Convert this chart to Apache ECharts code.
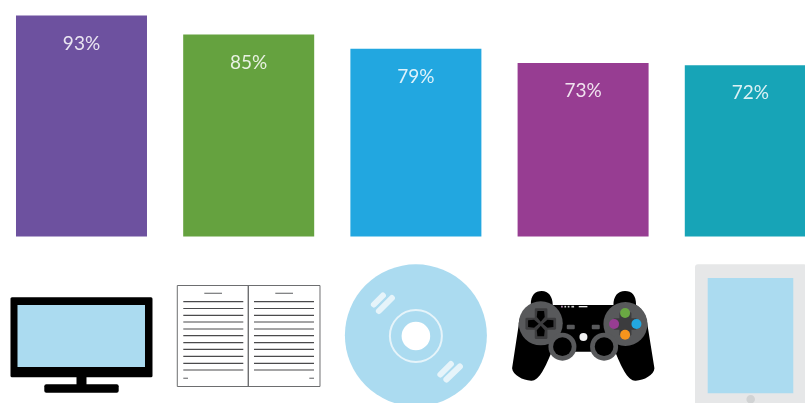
<!DOCTYPE html>
<html>
<head>
<meta charset="utf-8">
<style>
  html, body { margin: 0; padding: 0; background: #fff; }
  #chart { width: 805px; height: 403px; }
</style>
<script src="https://cdn.jsdelivr.net/npm/echarts@6/dist/echarts.min.js"></script>
</head>
<body>
<div id="chart"></div>
<script>
// Share of respondents per device or medium
const categories = ['Television', 'Books', 'Discs', 'Game consoles', 'Tablets'];
const shares = [93, 85, 79, 73, 72];
const barColors = ['#6d519f', '#65a23f', '#22a7e0', '#973d92', '#17a4b7'];

const SKY = '#abdbf0';
const GLARE = '#e6f4fa';
const BLACK = '#000000';
const PAD_GREY = '#58595b';

const rect = (x, y, width, height, fill, r) => ({
  type: 'rect', shape: { x, y, width, height, r: r || 0 }, style: { fill }
});
const circle = (cx, cy, r, fill) => ({
  type: 'circle', shape: { cx, cy, r }, style: { fill }
});
const line = (x1, y1, x2, y2, stroke, lineWidth, cap) => ({
  type: 'line', shape: { x1, y1, x2, y2 },
  style: { stroke, lineWidth, lineCap: cap || 'butt' }
});

function televisionIcon() {
  return [
    rect(-71, 297.3, 142, 80, BLACK, 1.5),
    rect(-64, 305, 127.5, 62, SKY),
    rect(-5, 377, 10, 8, BLACK),
    rect(-37.2, 384.3, 74.4, 8.4, BLACK, 2)
  ];
}

function bookIcon() {
  const rows = [301.7, 308.5, 315.3, 322, 329, 335.7, 342.7, 349.4, 356.3, 363.3, 370];
  const parts = [{
    type: 'rect',
    shape: { x: -71.4, y: 285.5, width: 142.7, height: 101 },
    style: { fill: '#ffffff', stroke: '#6d6e70', lineWidth: 1 }
  }, line(-0.4, 285.5, -0.4, 386.5, '#6d6e70', 1.4)];
  rows.forEach((y) => {
    parts.push(line(-65.4, y, -5.4, y, '#4a4a4c', 1.2));
    parts.push(line(5.3, y, 65.3, y, '#4a4a4c', 1.2));
  });
  parts.push(line(-44.4, 293.3, -26.7, 293.3, '#77787a', 1.2));
  parts.push(line(26.6, 293.3, 44.3, 293.3, '#77787a', 1.2));
  parts.push(line(-65.4, 378.3, -60.7, 378.3, '#8a8b8d', 1.4));
  parts.push(line(60.6, 378.3, 65.3, 378.3, '#8a8b8d', 1.4));
  return parts;
}

function discIcon() {
  const strips = [
    [-42, 304.5, -33, 295.5], [-37, 311, -24, 298],
    [24.5, 374.5, 35, 364], [30.5, 379.5, 44, 366.5]
  ];
  return [
    circle(0, 335.3, 71, SKY),
    { type: 'circle', shape: { cx: 0, cy: 336, r: 26 },
      style: { fill: 'none', stroke: GLARE, lineWidth: 2 } },
    circle(0, 336, 14.3, '#ffffff')
  ].concat(strips.map((s) => line(s[0], s[1], s[2], s[3], GLARE, 6, 'round')));
}

// Drawn on a 3x finer local grid, scaled down by its group
function controllerIcon() {
  const body = 'M92,150 C92,120 105,108 125,108 C145,108 158,125 158,150 L340,150 ' +
    'C340,125 352,108 375,108 C395,108 408,120 408,150 C425,160 440,180 443,215 ' +
    'L463,340 C462,360 430,378 405,377 C385,375 370,350 345,290 L155,290 ' +
    'C130,350 115,375 95,377 C70,378 38,360 36,340 L55,215 C57,180 75,160 92,150 Z';
  const children = [
    { type: 'path', shape: { pathData: body }, style: { fill: BLACK } },
    circle(122, 205, 66, PAD_GREY),
    circle(376, 207, 66, PAD_GREY),
    rect(104, 160, 38, 92, '#3c3c3e', 4),
    rect(76, 188, 92, 36, '#3c3c3e', 4),
    rect(358, 172, 36, 70, '#3c3c3e', 4),
    rect(340, 190, 70, 34, '#3c3c3e', 4),
    { type: 'path', style: { fill: BLACK }, shape: {
      pathData: 'M122,200 L110,186 L112,168 L132,168 L134,186 Z ' +
        'M122,212 L110,226 L112,244 L132,244 L134,226 Z ' +
        'M116,206 L102,194 L84,196 L84,216 L102,218 Z ' +
        'M128,206 L142,194 L160,196 L160,216 L142,218 Z' } },
    circle(375, 174, 15, '#6aa843'),
    circle(342, 207, 15, '#973d92'),
    circle(409, 207, 15, '#22a7e0'),
    circle(375, 239, 15, '#f7941d'),
    rect(200, 209, 24, 14, PAD_GREY, 3),
    rect(275, 209, 24, 14, PAD_GREY, 3),
    circle(187, 275, 42, PAD_GREY),
    circle(187, 275, 28, BLACK),
    circle(312, 275, 42, PAD_GREY),
    circle(312, 275, 28, BLACK),
    circle(250, 246, 12, '#f1f1f2'),
    line(183, 155, 188, 155, '#c99ac6', 5),
    line(193, 155, 198, 155, '#d8d8d8', 5),
    line(203, 155, 208, 155, '#d8d8d8', 5),
    line(214, 155, 222, 155, '#d8d8d8', 5),
    line(236, 155, 262, 155, '#f0f0f0', 4)
  ];
  return [{ type: 'group', x: -83, y: 255, scaleX: 1 / 3, scaleY: 1 / 3, children }];
}

function tabletIcon() {
  return [
    rect(-55.3, 264.3, 112, 150, '#e6e7e8', 3),
    rect(-42.6, 278, 85.6, 115.3, SKY),
    circle(0.4, 399.3, 4.3, '#d1d3d4')
  ];
}

const iconBuilders = [televisionIcon, bookIcon, discIcon, controllerIcon, tabletIcon];

const chart = echarts.init(document.getElementById('chart'), null, { renderer: 'canvas' });
chart.setOption({
  animation: false,
  backgroundColor: '#ffffff',
  grid: { left: 0, top: 0, right: 0, height: 236.5, containLabel: false },
  // Columns are placed by index; the last one runs past the right edge
  xAxis: { type: 'value', min: -0.4874, max: 4.3272, show: false },
  yAxis: { type: 'value', min: 0, max: 99.5, show: false },
  series: [
    {
      type: 'bar',
      barWidth: 131,
      silent: true,
      data: shares.map((value, i) => ({ value: [i, value], itemStyle: { color: barColors[i] } })),
      encode: { x: 0, y: 1 },
      label: {
        show: true,
        position: 'insideTop',
        distance: 18.5,
        formatter: (p) => p.value[1] + '%',
        fontFamily: 'Lato',
        fontSize: 19,
        color: 'rgba(255,255,255,0.85)'
      }
    },
    {
      // One pictogram under each bar, centred on its column
      type: 'custom',
      silent: true,
      clip: false,
      data: categories.map((name, i) => [i]),
      encode: { x: 0 },
      renderItem: (params, api) => ({
        type: 'group',
        x: api.coord([api.value(0), 0])[0],
        y: 0,
        children: iconBuilders[params.dataIndex]()
      })
    }
  ]
});
</script>
</body>
</html>
